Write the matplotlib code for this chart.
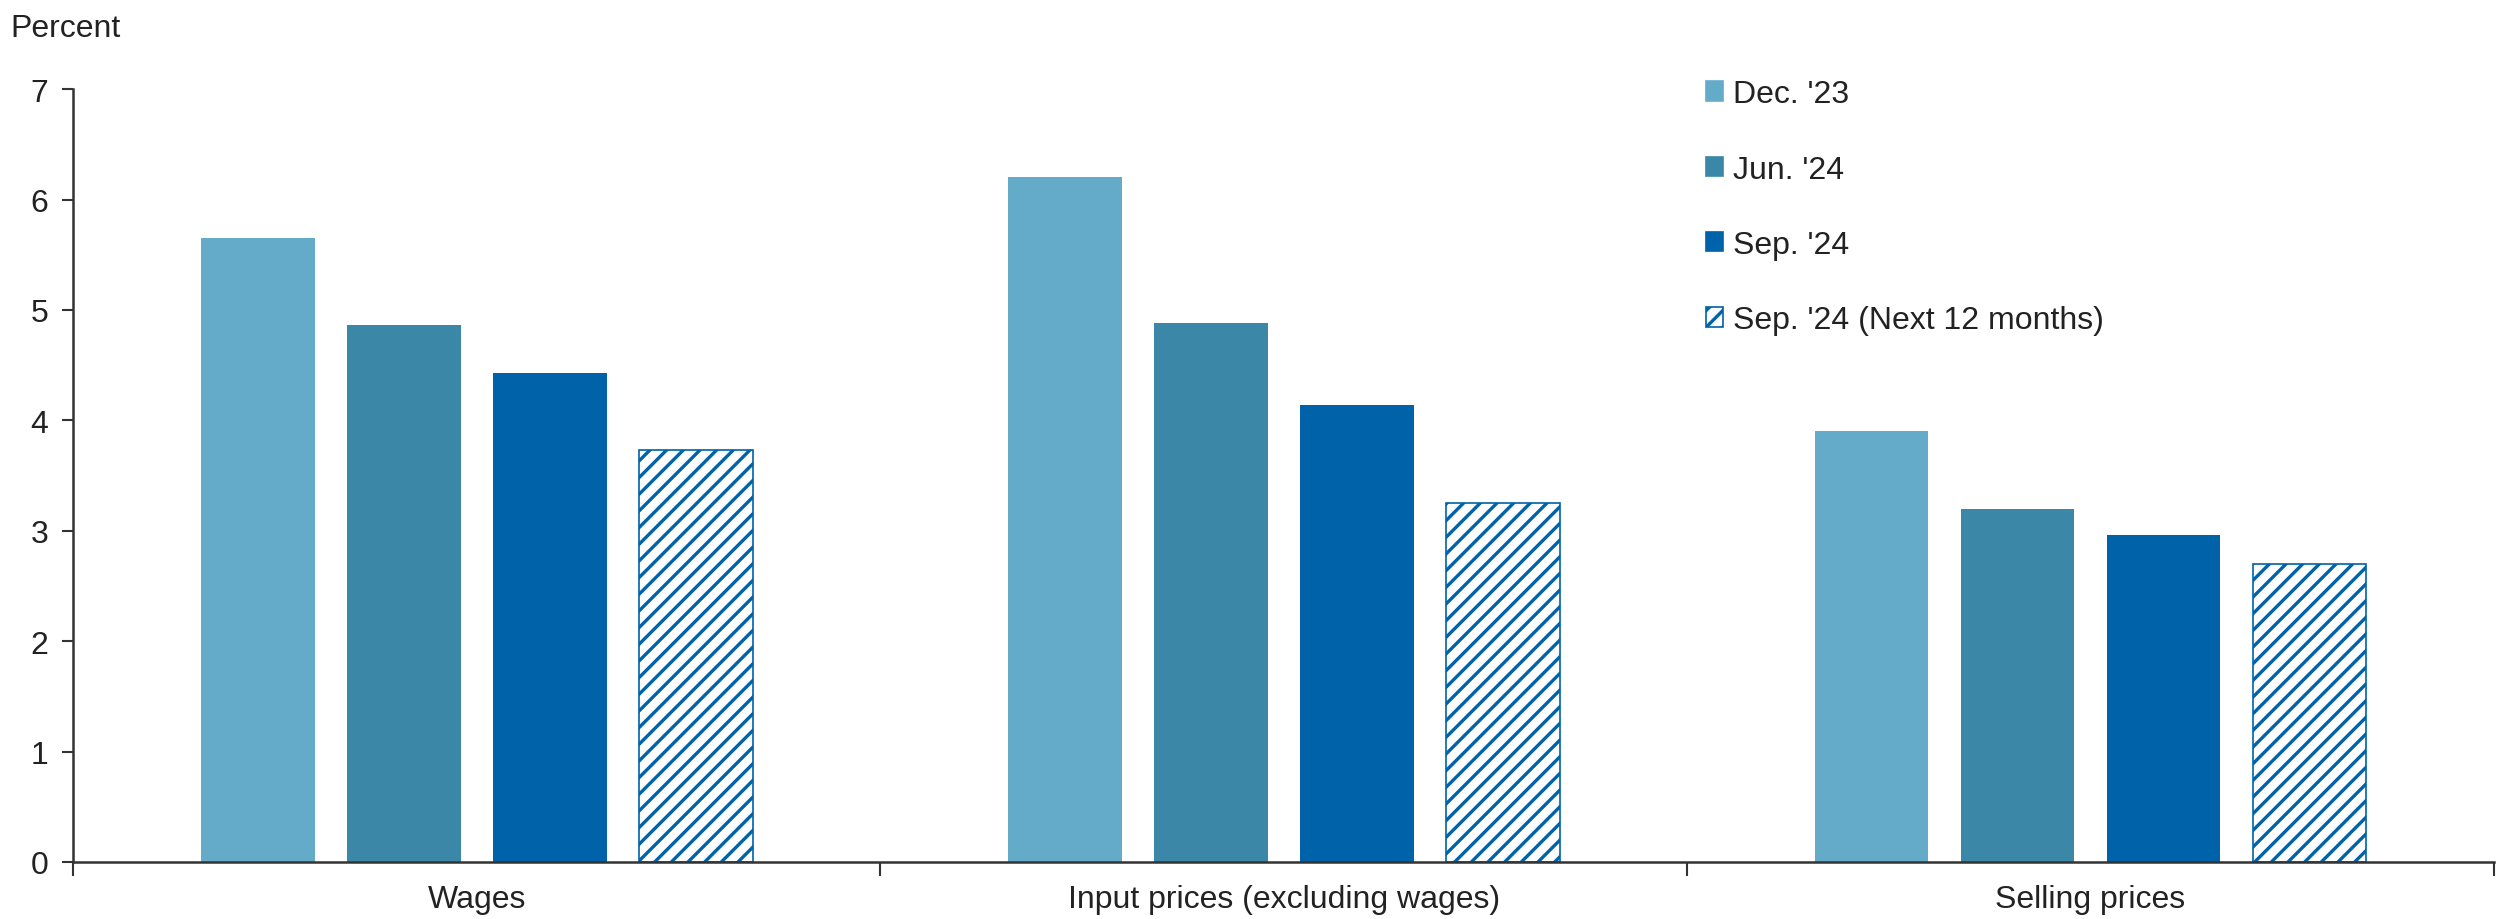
import matplotlib
matplotlib.use("Agg")
import matplotlib.pyplot as plt
import numpy as np
from matplotlib.patches import Patch

plt.rcParams["font.family"] = ["Liberation Sans", "DejaVu Sans"]
plt.rcParams["hatch.linewidth"] = 2.4

categories = ["Wages", "Input prices (excluding wages)", "Selling prices"]
series_labels = ["Dec. '23", "Jun. '24", "Sep. '24", "Sep. '24 (Next 12 months)"]
dec_23 = [5.65, 6.20, 3.90]
jun_24 = [4.86, 4.88, 3.20]
sep_24 = [4.43, 4.14, 2.96]
sep_24_next12 = [3.73, 3.25, 2.70]
y_ticks = [0, 1, 2, 3, 4, 5, 6, 7]

series = [dec_23, jun_24, sep_24, sep_24_next12]
fills = ["#64abc9", "#3b87a7", "#0062a8", "white"]
hatches = [None, None, None, "//"]
edges = ["none", "none", "none", "#0062a8"]

text_color = "#222222"
font_size = 23

fig = plt.figure(figsize=(25.06, 9.2), dpi=100)
ax = fig.add_axes([0.0293, 0.062, 0.9659, 0.840])

x = np.arange(len(categories))
pitch = 0.181
width = 0.141
handles = []
for i, (vals, fc, h, ec, lab) in enumerate(zip(series, fills, hatches, edges, series_labels)):
    ax.bar(x + (i - 1.5) * pitch, vals, width=width, color=fc, hatch=h,
           edgecolor=ec, linewidth=1.2 if ec != "none" else 0, zorder=2)
    handles.append(Patch(facecolor=fc, hatch=h, edgecolor=ec if ec != "none" else fc,
                         linewidth=1.2, label=lab))

ax.set_xlim(-0.5, len(categories) - 0.5)
ax.set_ylim(0, 7)
ax.set_yticks(y_ticks)
ax.set_yticklabels([str(t) for t in y_ticks])

# category labels centred, ticks at the group boundaries
ax.set_xticks(x)
ax.set_xticklabels(categories)
ax.tick_params(axis="x", which="major", length=0, pad=16)
ax.set_xticks(np.arange(len(categories) + 1) - 0.5, minor=True)
ax.tick_params(axis="x", which="minor", length=10, width=1.5, color="#333333", direction="out")
ax.tick_params(axis="y", length=8, width=1.5, color="#333333", pad=10, direction="out")
ax.tick_params(labelsize=font_size, labelcolor=text_color)

for side in ["top", "right"]:
    ax.spines[side].set_visible(False)
for side in ["left", "bottom"]:
    ax.spines[side].set_color("#333333")
    ax.spines[side].set_linewidth(1.8)

fig.text(0.004, 0.968, "Percent", fontsize=font_size, color=text_color, ha="left", va="center")

leg = ax.legend(handles=handles, loc="upper left", bbox_to_anchor=(0.6625, 1.05),
                frameon=False, fontsize=font_size, handlelength=0.55, handleheight=0.55,
                handletextpad=0.3, labelspacing=1.42, labelcolor=text_color)

fig.savefig("out.png", dpi=100, facecolor="white")
